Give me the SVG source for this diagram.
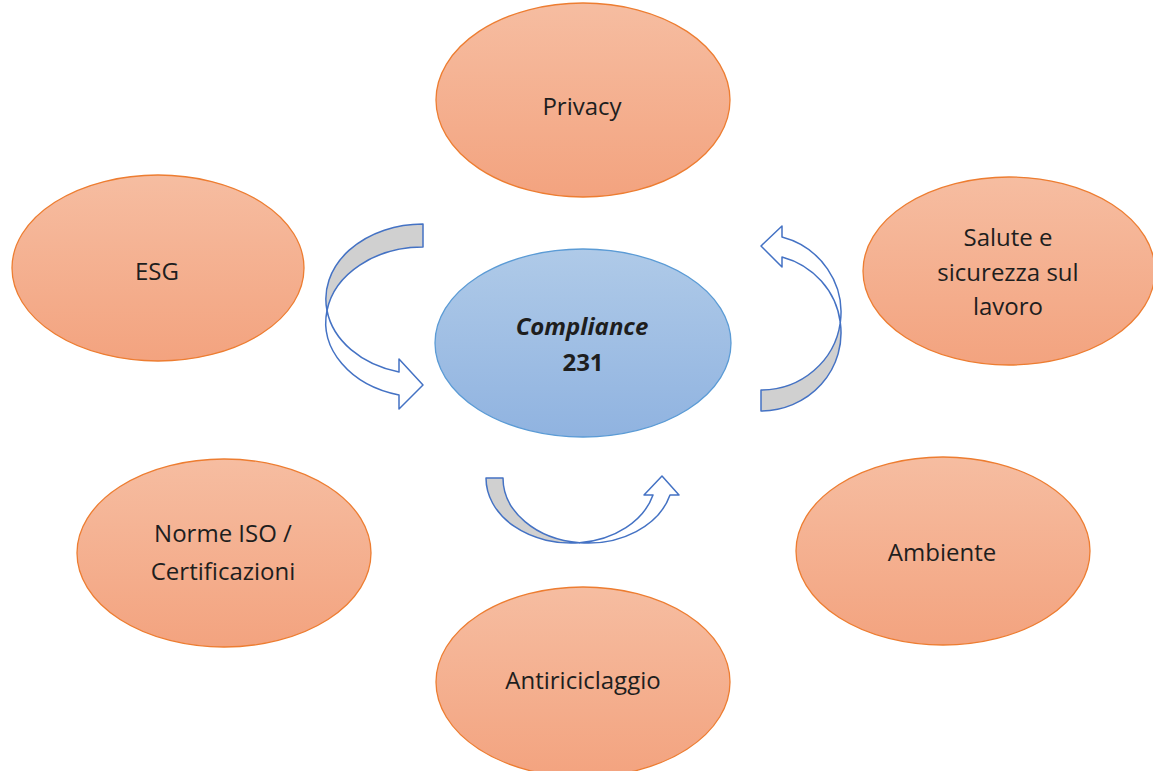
<svg xmlns="http://www.w3.org/2000/svg" width="1153" height="771" viewBox="0 0 1153 771">
<defs>
<linearGradient id="gOrange" x1="0" y1="0" x2="0" y2="1">
<stop offset="0" stop-color="#F6BDA1"/>
<stop offset="1" stop-color="#F3A37F"/>
</linearGradient>
<linearGradient id="gBlue" x1="0" y1="0" x2="0" y2="1">
<stop offset="0" stop-color="#AFCAE8"/>
<stop offset="1" stop-color="#90B3E0"/>
</linearGradient>
</defs>
<style>
.o{fill:url(#gOrange);stroke:#ED7D31;stroke-width:1.3}
.b{fill:url(#gBlue);stroke:#5B9BD5;stroke-width:1.3}
.t{font-family:"Open Sans","Noto Sans",sans-serif;font-size:24px;fill:#1E1E1E;text-anchor:middle}
.back{fill:#D0D0D0;stroke:#4472C4;stroke-width:1.5;stroke-linejoin:round}
.front{fill:#FFFFFF;stroke:#4472C4;stroke-width:1.5;stroke-linejoin:round}
</style>
<rect width="1153" height="771" fill="#FFFFFF"/>
<g id="connectors">
<path class="back" d="M423,224 A97,75 0 0 0 327,310.5 A97,75 0 0 1 423,247 Z"/>
<path class="front" d="M327,310.5 A97,75 0 0 0 399,372 L399,359 L423,385 L399,409 L399,395 A97,75 0 0 1 327,310.5 Z"/>
<path class="back" d="M761,390 A80,78 0 0 0 840.3,322.5 A80,78 0 0 1 761,411 Z"/>
<path class="front" d="M840.3,322.5 A80,78 0 0 0 782,237 L782,226 L761,246 L782,267 L782,257 A80,78 0 0 1 840.3,322.5 Z"/>
<path class="back" d="M486,478 A85,65 0 0 0 579.5,542.7 A85,65 0 0 1 503,478 Z"/>
<path class="front" d="M579.5,542.7 A85,65 0 0 0 653,495 L644,495 L662,476 L679,495 L670,495 A85,65 0 0 1 579.5,542.7 Z"/>
</g>
<g id="privacy">
<ellipse class="o" cx="583" cy="100" rx="147" ry="97"/>
<text class="t" x="582" y="115">Privacy</text>
</g>
<g id="esg">
<ellipse class="o" cx="158" cy="268" rx="146" ry="93"/>
<text class="t" x="157" y="280">ESG</text>
</g>
<g id="salute">
<ellipse class="o" cx="1009" cy="271" rx="146" ry="94"/>
<text class="t" x="1008" y="246">Salute e</text>
<text class="t" x="1008" y="281">sicurezza sul</text>
<text class="t" x="1008" y="315">lavoro</text>
</g>
<g id="compliance">
<ellipse class="b" cx="583" cy="343" rx="148" ry="94"/>
<text class="t" x="582" y="335" font-weight="bold" font-style="italic">Compliance</text>
<text class="t" x="583" y="371" font-weight="bold">231</text>
</g>
<g id="norme">
<ellipse class="o" cx="224" cy="553" rx="147" ry="94"/>
<text class="t" x="223" y="542">Norme ISO /</text>
<text class="t" x="223" y="580">Certificazioni</text>
</g>
<g id="ambiente">
<ellipse class="o" cx="943" cy="551" rx="147" ry="94"/>
<text class="t" x="942" y="561">Ambiente</text>
</g>
<g id="antiriciclaggio">
<ellipse class="o" cx="583" cy="682" rx="147" ry="95"/>
<text class="t" x="583" y="689">Antiriciclaggio</text>
</g>
</svg>
